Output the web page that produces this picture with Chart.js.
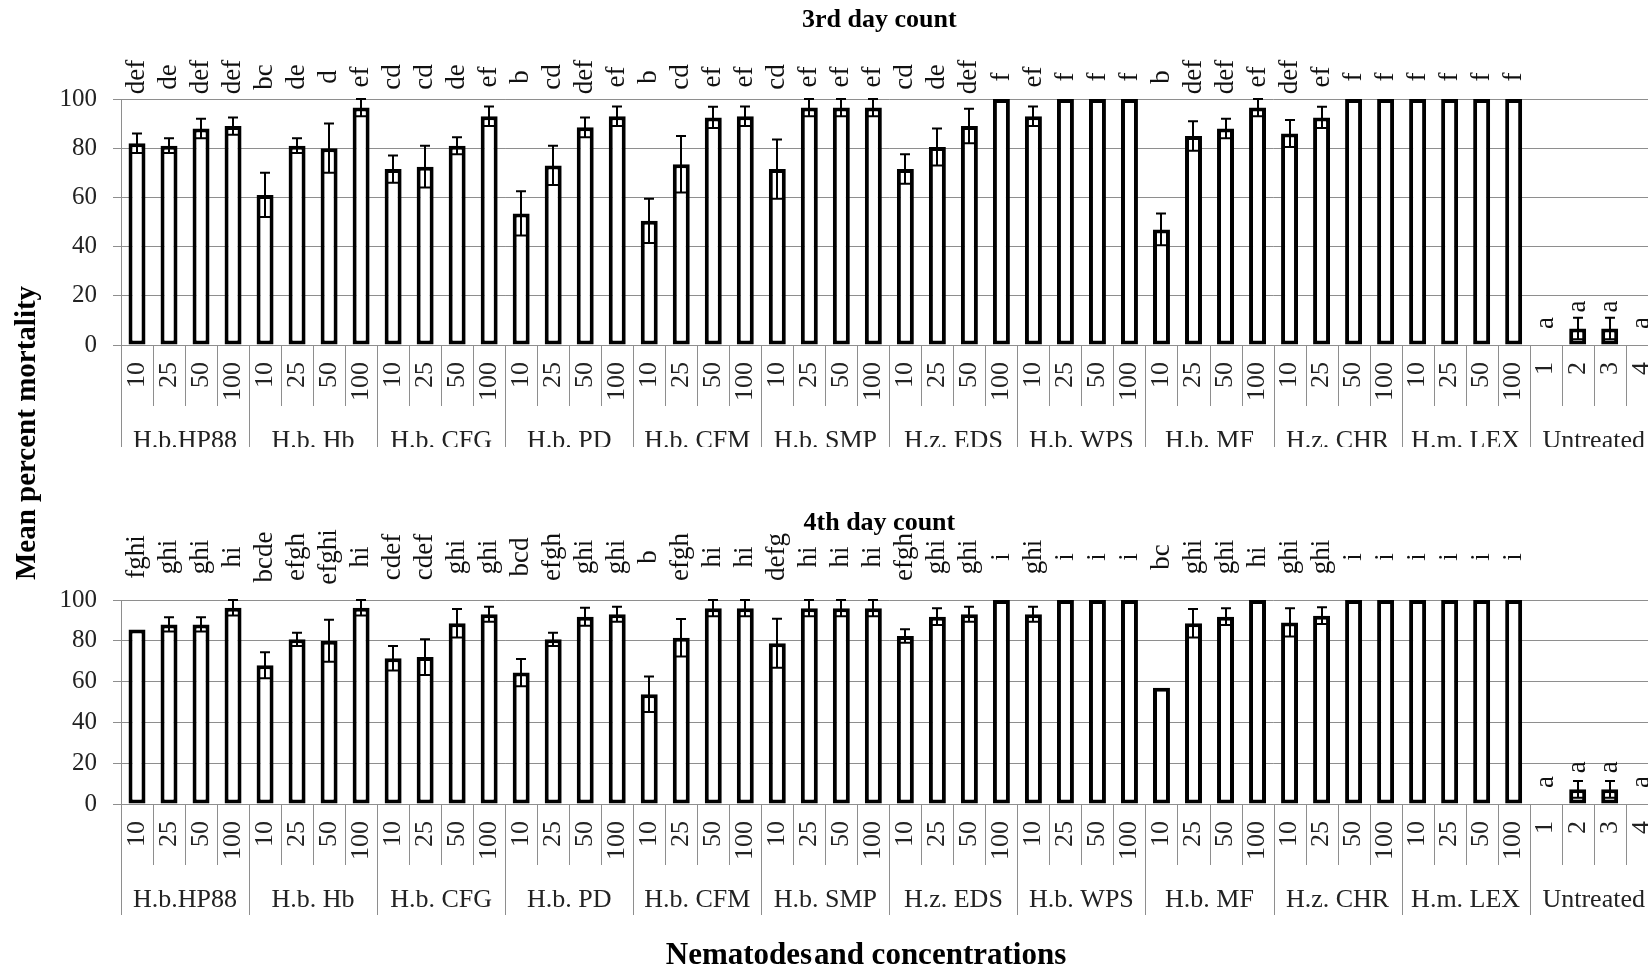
<!DOCTYPE html>
<html>
<head>
<meta charset="utf-8">
<script src="https://cdn.jsdelivr.net/npm/chart.js@4.4.1/dist/chart.umd.min.js"></script>
<style>
  html, body { margin: 0; padding: 0; background: #fff; overflow: hidden; }
  #page { position: relative; width: 1648px; height: 966px; overflow: hidden; background: #fff; }
  canvas { position: absolute; left: 0; }
  #c3 { top: 0; }
  #c4 { top: 480px; }
  #ytitle {
    position: absolute; left: -174px; top: 416px; width: 400px; height: 34px;
    line-height: 34px; text-align: center; transform: rotate(-90deg);
    font: bold 29px 'Liberation Serif', serif; color: #000; white-space: nowrap;
  }
  #xtitle {
    position: absolute; left: 466px; top: 936px; width: 800px; height: 36px;
    line-height: 36px; text-align: center;
    font: bold 31px 'Liberation Serif', serif; color: #000; white-space: nowrap;
  }
  #xtitle .tight { letter-spacing: -6px; }
</style>
</head>
<body>
<div id="page">
  <canvas id="c3" width="1690" height="447"></canvas>
  <canvas id="c4" width="1690" height="486"></canvas>
  <div id="ytitle">Mean percent mortality</div>
  <div id="xtitle">Nematodes<span class="tight"> </span>and concentrations</div>
</div>
<script>
// nematode isolates (one group of four bars each)
const groups = ['H.b.HP88', 'H.b. Hb', 'H.b. CFG', 'H.b. PD', 'H.b. CFM', 'H.b. SMP',
                'H.z. EDS', 'H.b. WPS', 'H.b. MF', 'H.z. CHR', 'H.m. LEX', 'Untreated'];
const concentrations = ['10', '25', '50', '100'];
const untreatedReps = ['1', '2', '3', '4'];
const yTicks = [0, 20, 40, 60, 80, 100];

// 3rd day count
const day3Mean = [82, 81, 88, 89,   61, 81, 80, 96.5,   71.5, 72.5, 81, 93,   53.5, 73, 88.5, 93,
                  50.5, 73.5, 92.5, 93,   71.5, 96.5, 96.5, 96.5,   71.5, 80.5, 89, 100,   93, 100, 100, 100,
                  47, 85, 88, 96.5,   86, 92.5, 100, 100,   100, 100, 100, 100,   0, 6.7, 6.7, 0];
const day3Err = [4, 3, 4, 3.5,   9, 3, 10, 3.5,   5.5, 8.5, 3.5, 4,   9, 8, 4, 4,
                 9, 11.5, 4.3, 4,   12, 3.5, 3.5, 3.5,   6, 7.5, 7, 0,   4, 0, 0, 0,
                 6.5, 6, 4, 3.5,   5.5, 4.3, 0, 0,   0, 0, 0, 0,   0, 4.4, 4.4, 0];
const day3Letters = ['def', 'de', 'def', 'def',   'bc', 'de', 'd', 'ef',   'cd', 'cd', 'de', 'ef',   'b', 'cd', 'def', 'ef',
                     'b', 'cd', 'ef', 'ef',   'cd', 'ef', 'ef', 'ef',   'cd', 'de', 'def', 'f',   'ef', 'f', 'f', 'f',
                     'b', 'def', 'def', 'ef',   'def', 'ef', 'f', 'f',   'f', 'f', 'f', 'f',   'a', 'a', 'a', 'a'];

// 4th day count
const day4Mean = [85.6, 88, 88, 96.2,   68, 80.7, 80, 96.2,   71.4, 72, 88.6, 93,   64.4, 80.7, 91.8, 93,
                  53.8, 81.5, 96, 96,   78.8, 96, 96, 96,   82.4, 91.8, 93, 100,   93, 100, 100, 100,
                  57, 88.6, 91.8, 100,   89, 92.3, 100, 100,   100, 100, 100, 100,   0, 7.2, 7.2, 0];
const day4Err = [0, 3.5, 3.5, 3.8,   6.4, 3.3, 10.3, 3.8,   6, 8.8, 7, 3.7,   6.7, 3.3, 4.4, 3.7,
                 8.7, 9.2, 4, 4,   12, 4, 4, 4,   3.3, 4.1, 3.7, 0,   3.7, 0, 0, 0,
                 0, 7, 4.1, 0,   6.9, 4.1, 0, 0,   0, 0, 0, 0,   0, 4.1, 4.1, 0];
const day4Letters = ['fghi', 'ghi', 'ghi', 'hi',   'bcde', 'efgh', 'efghi', 'hi',   'cdef', 'cdef', 'ghi', 'ghi',   'bcd', 'efgh', 'ghi', 'ghi',
                     'b', 'efgh', 'hi', 'hi',   'defg', 'hi', 'hi', 'hi',   'efgh', 'ghi', 'ghi', 'i',   'ghi', 'i', 'i', 'i',
                     'bc', 'ghi', 'ghi', 'hi',   'ghi', 'ghi', 'i', 'i',   'i', 'i', 'i', 'i',   'a', 'a', 'a', 'a'];

const tickLabels = [];
groups.forEach(g => (g === 'Untreated' ? untreatedReps : concentrations).forEach(c => tickLabels.push(c)));

const SERIF = "'Liberation Serif', 'Times New Roman', serif";
const GRID = '#8e8e8e';

function drawChart(canvasId, s) {
    const overlay = {
        id: 'overlay',
        afterDatasetsDraw(chart) {
            const ctx = chart.ctx;
            const area = chart.chartArea;
            const x = chart.scales.x, y = chart.scales.y;
            ctx.save();

            // error bars (both directions, lower half sits inside the bar)
            ctx.strokeStyle = '#000';
            ctx.lineWidth = 2;
            s.mean.forEach((v, i) => {
                const e = s.err[i];
                if (!e) return;
                const cx = Math.round(x.getPixelForValue(i));
                const yt = y.getPixelForValue(v + e);
                const yb = y.getPixelForValue(v - e);
                ctx.beginPath();
                ctx.moveTo(cx, yt); ctx.lineTo(cx, yb);
                ctx.moveTo(cx - 5, yt); ctx.lineTo(cx + 5, yt);
                ctx.moveTo(cx - 5, yb); ctx.lineTo(cx + 5, yb);
                ctx.stroke();
            });

            // significance letters, rotated
            ctx.fillStyle = '#111';
            ctx.font = '27px ' + SERIF;
            ctx.textAlign = 'center';
            ctx.textBaseline = 'middle';
            s.letters.forEach((t, i) => {
                const v = s.mean[i];
                const cx = x.getPixelForValue(i);
                const cy = v < 20 ? y.getPixelForValue(v) - 22 : area.top - s.letterGap;
                ctx.save();
                ctx.translate(cx, cy);
                ctx.rotate(-Math.PI / 2);
                ctx.fillText(t, 0, 0);
                ctx.restore();
            });

            // category separators below the axis
            ctx.strokeStyle = GRID;
            ctx.lineWidth = 1;
            for (let i = 0; i <= tickLabels.length; i++) {
                const px = Math.round(x.getPixelForValue(i - 0.5)) + 0.5;
                const len = i % 4 === 0 ? s.groupTick : s.tick;
                ctx.beginPath();
                ctx.moveTo(px, area.bottom);
                ctx.lineTo(px, area.bottom + len);
                ctx.stroke();
            }

            // group names
            ctx.fillStyle = '#222';
            ctx.font = '26px ' + SERIF;
            ctx.textAlign = 'center';
            ctx.textBaseline = 'alphabetic';
            groups.forEach((g, k) => {
                const a = x.getPixelForValue(4 * k - 0.5);
                const b = x.getPixelForValue(4 * k + 3.5);
                ctx.fillText(g, (a + b) / 2, area.bottom + 103);
            });

            // panel title
            ctx.fillStyle = '#000';
            ctx.font = 'bold 26px ' + SERIF;
            ctx.fillText(s.title, (area.left + area.right) / 2 - 10, s.titleY);
            ctx.restore();
        }
    };

    return new Chart(document.getElementById(canvasId), {
        type: 'bar',
        data: {
            labels: tickLabels,
            datasets: [{
                data: s.mean,
                backgroundColor: '#fff',
                borderColor: '#000',
                borderWidth: 4,
                borderSkipped: false,
                barPercentage: 0.53,
                categoryPercentage: 1
            }]
        },
        options: {
            responsive: false,
            animation: false,
            devicePixelRatio: 1,
            layout: { padding: { left: 0, right: 9, top: s.top, bottom: 0 } },
            plugins: { legend: { display: false }, tooltip: { enabled: false }, title: { display: false } },
            scales: {
                x: {
                    grid: { display: false, drawTicks: false },
                    border: { display: true, color: GRID, width: 1 },
                    ticks: {
                        autoSkip: false, minRotation: 90, maxRotation: 90, padding: 17,
                        color: '#222', font: { family: SERIF, size: 26 }
                    },
                    afterFit(scale) { scale.height = s.xHeight; }
                },
                y: {
                    min: 0, max: 100,
                    afterBuildTicks(scale) { scale.ticks = yTicks.map(v => ({ value: v })); },
                    grid: { color: GRID, lineWidth: 1, tickLength: 8 },
                    border: { display: true, color: GRID, width: 1 },
                    ticks: { color: '#222', padding: 16, font: { family: SERIF, size: 25 } },
                    afterFit(scale) { scale.width = 121; }
                }
            }
        },
        plugins: [overlay]
    });
}

drawChart('c3', {
    title: '3rd day count', titleY: 27,
    mean: day3Mean, err: day3Err, letters: day3Letters,
    top: 99, xHeight: 102, letterGap: 22, tick: 61, groupTick: 111
});
drawChart('c4', {
    title: '4th day count', titleY: 50,
    mean: day4Mean, err: day4Err, letters: day4Letters,
    top: 120, xHeight: 162, letterGap: 43, tick: 61, groupTick: 111
});
</script>
</body>
</html>
